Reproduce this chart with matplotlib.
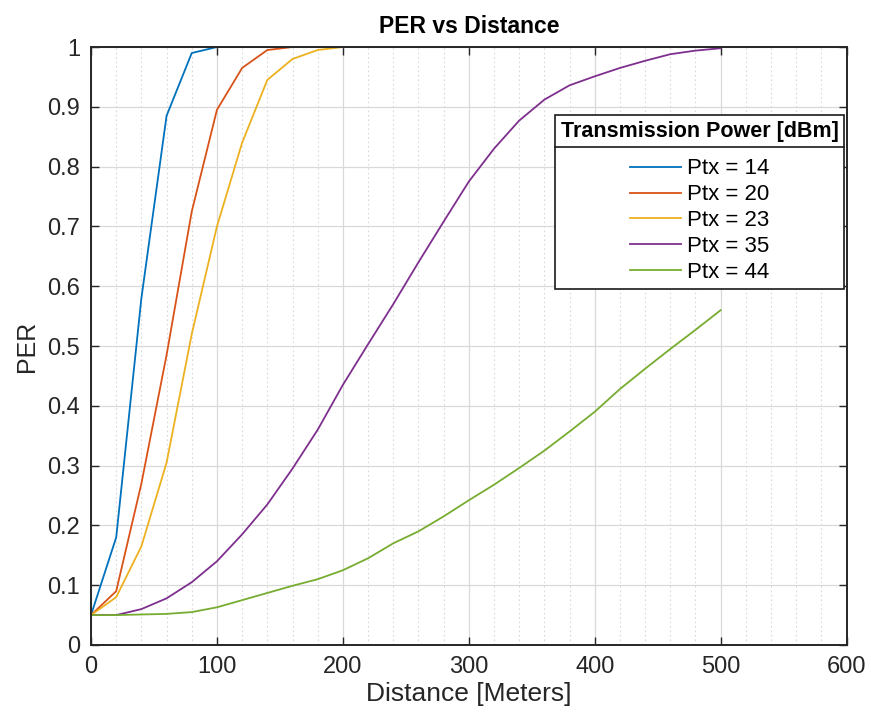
import matplotlib
matplotlib.use("Agg")
import matplotlib.pyplot as plt
import matplotlib.lines as mlines
from matplotlib.ticker import MultipleLocator, FuncFormatter

plt.rcParams['font.family'] = ['Liberation Sans', 'DejaVu Sans']

# distance en metres (pas de 20 m)
distance = [0, 20, 40, 60, 80, 100, 120, 140, 160, 180, 200, 220, 240, 260, 280,
            300, 320, 340, 360, 380, 400, 420, 440, 460, 480, 500]

per_14 = [0.05, 0.18, 0.58, 0.885, 0.99, 1.0, 1.0, 1.0, 1.0, 1.0, 1.0, 1.0, 1.0,
          1.0, 1.0, 1.0, 1.0, 1.0, 1.0, 1.0, 1.0, 1.0, 1.0, 1.0, 1.0, 1.0]
per_20 = [0.05, 0.09, 0.27, 0.485, 0.725, 0.895, 0.965, 0.995, 1.0, 1.0, 1.0, 1.0,
          1.0, 1.0, 1.0, 1.0, 1.0, 1.0, 1.0, 1.0, 1.0, 1.0, 1.0, 1.0, 1.0, 1.0]
per_23 = [0.05, 0.08, 0.165, 0.305, 0.52, 0.70, 0.84, 0.945, 0.98, 0.995, 1.0, 1.0,
          1.0, 1.0, 1.0, 1.0, 1.0, 1.0, 1.0, 1.0, 1.0, 1.0, 1.0, 1.0, 1.0, 1.0]
per_35 = [0.05, 0.05, 0.06, 0.078, 0.105, 0.14, 0.185, 0.235, 0.295, 0.36, 0.435,
          0.503, 0.57, 0.64, 0.708, 0.775, 0.83, 0.877, 0.912, 0.936, 0.951, 0.965,
          0.977, 0.988, 0.994, 0.998]
per_44 = [0.05, 0.05, 0.051, 0.052, 0.055, 0.063, 0.075, 0.087, 0.099, 0.11, 0.125,
          0.145, 0.17, 0.19, 0.215, 0.242, 0.268, 0.296, 0.325, 0.357, 0.39, 0.428,
          0.462, 0.495, 0.527, 0.56]

series = [per_14, per_20, per_23, per_35, per_44]
labels = ['Ptx = 14', 'Ptx = 20', 'Ptx = 23', 'Ptx = 35', 'Ptx = 44']
colors = ['#0072BD', '#D95319', '#EDB120', '#7E2F8E', '#77AC30']

fig = plt.figure(figsize=(8.71, 7.18), dpi=100)
ax = fig.add_axes([0.1045, 0.1017, 0.8675, 0.8328])

for y, lab, c in zip(series, labels, colors):
    ax.plot(distance, y, color=c, lw=1.3, label=lab)

ax.set_xlim(0, 600)
ax.set_ylim(0, 1)
ax.xaxis.set_major_locator(MultipleLocator(100))
ax.xaxis.set_minor_locator(MultipleLocator(20))
ax.yaxis.set_major_locator(MultipleLocator(0.1))
ax.yaxis.set_major_formatter(FuncFormatter(lambda v, p: f"{v:g}"))

ax.grid(which='major', color='#d9d9d9', lw=0.9, ls='-')
ax.grid(which='minor', axis='x', color='#d9d9d9', lw=0.8, ls=(0, (1.5, 2.5)))
ax.set_axisbelow(True)

ax.tick_params(which='major', direction='in', length=6, width=1, colors='#262626',
               top=True, right=True, labelsize=17, pad=8)
ax.tick_params(which='minor', length=0, top=True, right=True)
for sp in ax.spines.values():
    sp.set_color('#262626')
    sp.set_linewidth(1.4)

ax.set_xlabel('Distance [Meters]', fontsize=19, color='#262626', labelpad=3)
ax.set_ylabel('PER', fontsize=18, color='#262626', labelpad=6)
ax.set_title('PER vs Distance', fontsize=16.5, fontweight='bold', pad=10)

leg = ax.legend(loc='upper right', bbox_to_anchor=(0.997, 0.886), fontsize=16,
                title='Transmission Power [dBm]',
                title_fontproperties={'weight': 'bold', 'size': 15.5},
                fancybox=False, framealpha=1, edgecolor='#1a1a1a',
                handlelength=2.3, handletextpad=0.25, labelspacing=0.22,
                borderpad=0.25, borderaxespad=0)
leg.get_frame().set_linewidth(1.2)
leg._legend_box.sep = 12  # plus d'espace entre le titre et les entrées

# trait sous le titre de la légende (style MATLAB)
fig.canvas.draw()
r = fig.canvas.get_renderer()
tb = leg.get_title().get_window_extent(r)
fb = leg.get_frame().get_window_extent(r)
inv = fig.transFigure.inverted()
(x0, ys), = inv.transform([(fb.x0, tb.y0 - 5)])
(x1, _), = inv.transform([(fb.x1, tb.y0 - 5)])
fig.add_artist(mlines.Line2D([x0, x1], [ys, ys], color='#1a1a1a', lw=1.2,
                             transform=fig.transFigure))

fig.savefig('out.png', dpi=100)
